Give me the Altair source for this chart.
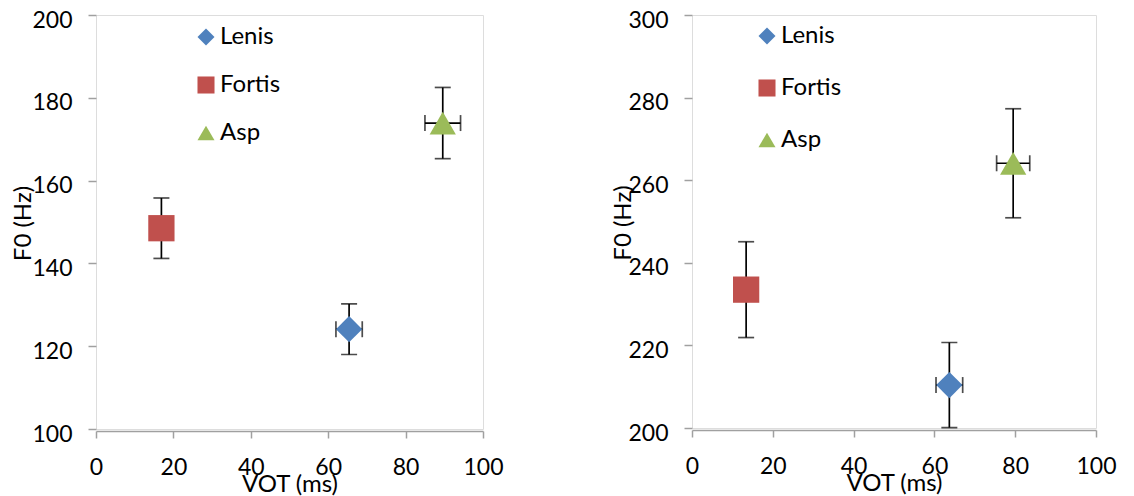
import altair as alt
import pandas as pd

categories = ["Lenis", "Fortis", "Asp"]
colors = ["#4F81BD", "#C0504D", "#9BBB59"]
shapes = ["diamond", "square", "triangle-up"]

# Left panel
left_vot = [65.4, 16.9, 89.6]
left_vot_err = [3.4, 0.0, 4.6]
left_f0 = [124.1, 148.5, 173.9]
left_f0_err = [6.1, 7.3, 8.6]

# Right panel
right_vot = [63.7, 13.4, 79.5]
right_vot_err = [3.3, 0.0, 4.1]
right_f0 = [210.4, 233.5, 264.1]
right_f0_err = [10.3, 11.6, 13.2]

FONT = "Lato"


def make_df(vot, vot_err, f0, f0_err):
    return pd.DataFrame({
        "type": categories,
        "vot": vot,
        "vlo": [v - e for v, e in zip(vot, vot_err)],
        "vhi": [v + e for v, e in zip(vot, vot_err)],
        "verr": vot_err,
        "f0": f0,
        "flo": [v - e for v, e in zip(f0, f0_err)],
        "fhi": [v + e for v, e in zip(f0, f0_err)],
    })


def panel(df, ymin, ymax, width, height, title_x, legend_x, legend_y, legend_row_pad):
    xs = alt.Scale(domain=[0, 100], nice=False, zero=False)
    ys = alt.Scale(domain=[ymin, ymax], nice=False, zero=False)
    xaxis = alt.Axis(
        values=[0, 20, 40, 60, 80, 100], grid=False, domainColor="#a0a0a0",
        domainWidth=1.5, tickColor="#a0a0a0", tickWidth=1.5, tickSize=7,
        offset=2, labelPadding=18, labelFont=FONT, labelFontSize=23,
        labelFlush=False, labelOverlap=False,
        labelColor="#000000", title="VOT (ms)", titleFont=FONT,
        titleFontSize=24, titleFontWeight="normal", titleColor="#000000",
        titleY=60, titleX=width / 2, titleBaseline="alphabetic",
    )
    yaxis = alt.Axis(
        values=list(range(ymin, ymax + 1, 20)), grid=False, domain=False,
        tickColor="#a0a0a0", tickWidth=1.5, tickSize=8, labelPadding=16,
        labelFont=FONT, labelFontSize=23, labelColor="#000000",
        labelFlush=False, labelOverlap=False,
        labelOffset=5, title="F0 (Hz)", titleFont=FONT, titleFontSize=24,
        titleFontWeight="normal", titleColor="#000000", titleX=title_x,
        titleY=height / 2 + 1, titleAngle=-90, titleBaseline="middle",
        titleAlign="center",
    )
    base = alt.Chart(df)
    yrule = base.mark_rule(color="black", strokeWidth=1.7).encode(
        x=alt.X("vot:Q", scale=xs, axis=xaxis),
        y=alt.Y("flo:Q", scale=ys, axis=yaxis),
        y2="fhi:Q",
    )
    ycap_lo = base.mark_tick(orient="horizontal", color="black", size=16,
                             thickness=1.7).encode(
        x=alt.X("vot:Q", scale=xs), y=alt.Y("flo:Q", scale=ys))
    ycap_hi = base.mark_tick(orient="horizontal", color="black", size=16,
                             thickness=1.7).encode(
        x=alt.X("vot:Q", scale=xs), y=alt.Y("fhi:Q", scale=ys))
    xb = base.transform_filter("datum.verr > 0")
    xrule = xb.mark_rule(color="black", strokeWidth=1.7).encode(
        x=alt.X("vlo:Q", scale=xs), x2="vhi:Q", y=alt.Y("f0:Q", scale=ys))
    xcap_lo = xb.mark_tick(orient="vertical", color="black", size=16,
                           thickness=1.7).encode(
        x=alt.X("vlo:Q", scale=xs), y=alt.Y("f0:Q", scale=ys))
    xcap_hi = xb.mark_tick(orient="vertical", color="black", size=16,
                           thickness=1.7).encode(
        x=alt.X("vhi:Q", scale=xs), y=alt.Y("f0:Q", scale=ys))
    legend = alt.Legend(
        orient="none", legendX=legend_x, legendY=legend_y, title=None,
        labelFont=FONT, labelFontSize=24, labelColor="#000000",
        symbolSize=290, symbolStrokeWidth=0, rowPadding=legend_row_pad,
        labelOffset=2, padding=0,
    )
    pts = base.mark_point(filled=True, size=690, opacity=1,
                          strokeWidth=0).encode(
        x=alt.X("vot:Q", scale=xs),
        y=alt.Y("f0:Q", scale=ys),
        color=alt.Color("type:N", scale=alt.Scale(domain=categories, range=colors), legend=legend),
        shape=alt.Shape("type:N", scale=alt.Scale(domain=categories, range=shapes), legend=legend),
    )
    return alt.layer(yrule, ycap_lo, ycap_hi, xrule, xcap_lo, xcap_hi, pts).properties(
        width=width, height=height)


left = panel(make_df(left_vot, left_vot_err, left_f0, left_f0_err),
             100, 200, 387, 414, -73, 98, 10, 24)
right = panel(make_df(right_vot, right_vot_err, right_f0, right_f0_err),
              200, 300, 404, 413, -69, 63, 9, 28)

chart = alt.hconcat(left, right, spacing=209, bounds="flush").resolve_scale(
    x="independent", y="independent", color="independent", shape="independent"
).resolve_legend(color="independent", shape="independent").properties(
    padding={"left": 10, "top": 8, "right": 5, "bottom": 5}
).configure_view(stroke="#555555", strokeWidth=1.5).configure(background="white")

chart.save("out.html", embed_options={"renderer": "svg", "actions": False})
